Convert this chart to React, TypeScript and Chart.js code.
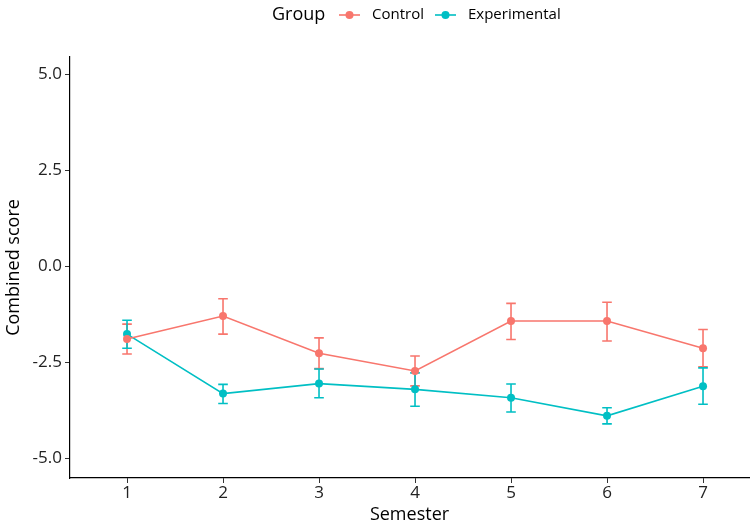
import React, { useEffect, useRef } from "react";
import { Chart, registerables } from "chart.js";

Chart.register(...registerables);

const semesters = [1, 2, 3, 4, 5, 6, 7];
const controlMean = [-1.9, -1.3, -2.27, -2.73, -1.43, -1.43, -2.14];
const controlLow = [-2.29, -1.77, -2.67, -3.12, -1.91, -1.95, -2.62];
const controlHigh = [-1.51, -0.85, -1.87, -2.34, -0.97, -0.94, -1.65];
const expMean = [-1.77, -3.32, -3.06, -3.21, -3.43, -3.9, -3.13];
const expLow = [-2.14, -3.58, -3.43, -3.65, -3.8, -4.11, -3.6];
const expHigh = [-1.41, -3.08, -2.68, -2.78, -3.07, -3.69, -2.65];
const yTicks = [-5, -2.5, 0, 2.5, 5];
const groupNames = ["Control", "Experimental"];
const groupColors = ["#F8766D", "#00BFC4"];
const FONT = "'Open Sans', 'Noto Sans', sans-serif";

const errorBars = {
  id: "errorBars",
  beforeDatasetsDraw(chart: any) {
    const ctx = chart.ctx;
    const xs = chart.scales.x;
    const ys = chart.scales.y;
    const sets = [
      { low: controlLow, high: controlHigh, color: groupColors[0] },
      { low: expLow, high: expHigh, color: groupColors[1] },
    ];
    ctx.save();
    ctx.lineWidth = 1.6;
    sets.forEach((s) => {
      ctx.strokeStyle = s.color;
      semesters.forEach((sem, i) => {
        const x = xs.getPixelForValue(sem);
        const xl = xs.getPixelForValue(sem - 0.05);
        const xr = xs.getPixelForValue(sem + 0.05);
        const yl = ys.getPixelForValue(s.low[i]);
        const yh = ys.getPixelForValue(s.high[i]);
        ctx.beginPath();
        ctx.moveTo(x, yl);
        ctx.lineTo(x, yh);
        ctx.moveTo(xl, yl);
        ctx.lineTo(xr, yl);
        ctx.moveTo(xl, yh);
        ctx.lineTo(xr, yh);
        ctx.stroke();
      });
    });
    ctx.restore();
  },
};

const legendPlugin = {
  id: "ggLegend",
  afterDraw(chart: any) {
    const ctx = chart.ctx;
    ctx.save();
    ctx.textBaseline = "middle";
    ctx.fillStyle = "#000";
    ctx.font = `18px ${FONT}`;
    const cy = 15;
    ctx.fillText("Group", 272, cy);
    const starts = [339, 435];
    groupNames.forEach((name, i) => {
      const x0 = starts[i];
      ctx.strokeStyle = groupColors[i];
      ctx.fillStyle = groupColors[i];
      ctx.lineWidth = 1.6;
      ctx.beginPath();
      ctx.moveTo(x0, cy);
      ctx.lineTo(x0 + 21, cy);
      ctx.stroke();
      ctx.beginPath();
      ctx.arc(x0 + 10.5, cy, 4, 0, Math.PI * 2);
      ctx.fill();
      ctx.fillStyle = "#000";
      ctx.font = `15px ${FONT}`;
      ctx.fillText(name, x0 + 33, cy);
    });
    ctx.restore();
  },
};

export default function App() {
  const ref = useRef<HTMLCanvasElement>(null);
  useEffect(() => {
    if (!ref.current) return;
    const chart = new Chart(ref.current, {
      type: "line",
      data: {
        datasets: [
          {
            label: groupNames[0],
            data: semesters.map((s, i) => ({ x: s, y: controlMean[i] })),
            borderColor: groupColors[0],
            backgroundColor: groupColors[0],
            pointBackgroundColor: groupColors[0],
            pointBorderWidth: 0,
            pointRadius: 4,
            borderWidth: 1.6,
            tension: 0,
          },
          {
            label: groupNames[1],
            data: semesters.map((s, i) => ({ x: s, y: expMean[i] })),
            borderColor: groupColors[1],
            backgroundColor: groupColors[1],
            pointBackgroundColor: groupColors[1],
            pointBorderWidth: 0,
            pointRadius: 4,
            borderWidth: 1.6,
            tension: 0,
          },
        ],
      },
      options: {
        animation: false,
        responsive: false,
        maintainAspectRatio: false,
        layout: { padding: { top: 57, right: 0, left: 0, bottom: 0 } },
        plugins: {
          legend: { display: false },
          tooltip: { enabled: false },
        },
        scales: {
          x: {
            type: "linear",
            min: 0.406,
            max: 7.479,
            afterBuildTicks: (s: any) => {
              s.ticks = semesters.map((v) => ({ value: v }));
            },
            afterFit: (s: any) => {
              s.height = 48;
            },
            grid: {
              drawOnChartArea: false,
              drawTicks: true,
              tickLength: 5,
              color: "#333",
              lineWidth: 1,
            },
            border: { display: true, color: "#000", width: 1.2 },
            ticks: {
              color: "#222",
              font: { family: FONT, size: 17 },
              padding: 0,
              maxRotation: 0,
              callback: (v: any) => String(v),
            },
            title: {
              display: true,
              text: "Semester",
              color: "#000",
              font: { family: FONT, size: 18 },
              padding: { top: 0, bottom: 0 },
            },
          },
          y: {
            type: "linear",
            min: -5.52,
            max: 5.45,
            afterBuildTicks: (s: any) => {
              s.ticks = yTicks.map((v) => ({ value: v }));
            },
            afterFit: (s: any) => {
              s.width = 70;
            },
            grid: {
              drawOnChartArea: false,
              drawTicks: true,
              tickLength: 5,
              color: "#333",
              lineWidth: 1,
            },
            border: { display: true, color: "#000", width: 1.2 },
            ticks: {
              color: "#222",
              font: { family: FONT, size: 17 },
              padding: 3,
              callback: (v: any) => Number(v).toFixed(1),
            },
            title: {
              display: true,
              text: "Combined score",
              color: "#000",
              font: { family: FONT, size: 18 },
              padding: { top: 3, bottom: 0 },
            },
          },
        },
      },
      plugins: [errorBars, legendPlugin],
    });
    return () => chart.destroy();
  }, []);
  return (
    <div style={{ position: "fixed", left: 0, top: 0, width: 753, height: 526, background: "#fff" }}>
      <canvas ref={ref} width={753} height={526} style={{ display: "block" }} />
    </div>
  );
}
